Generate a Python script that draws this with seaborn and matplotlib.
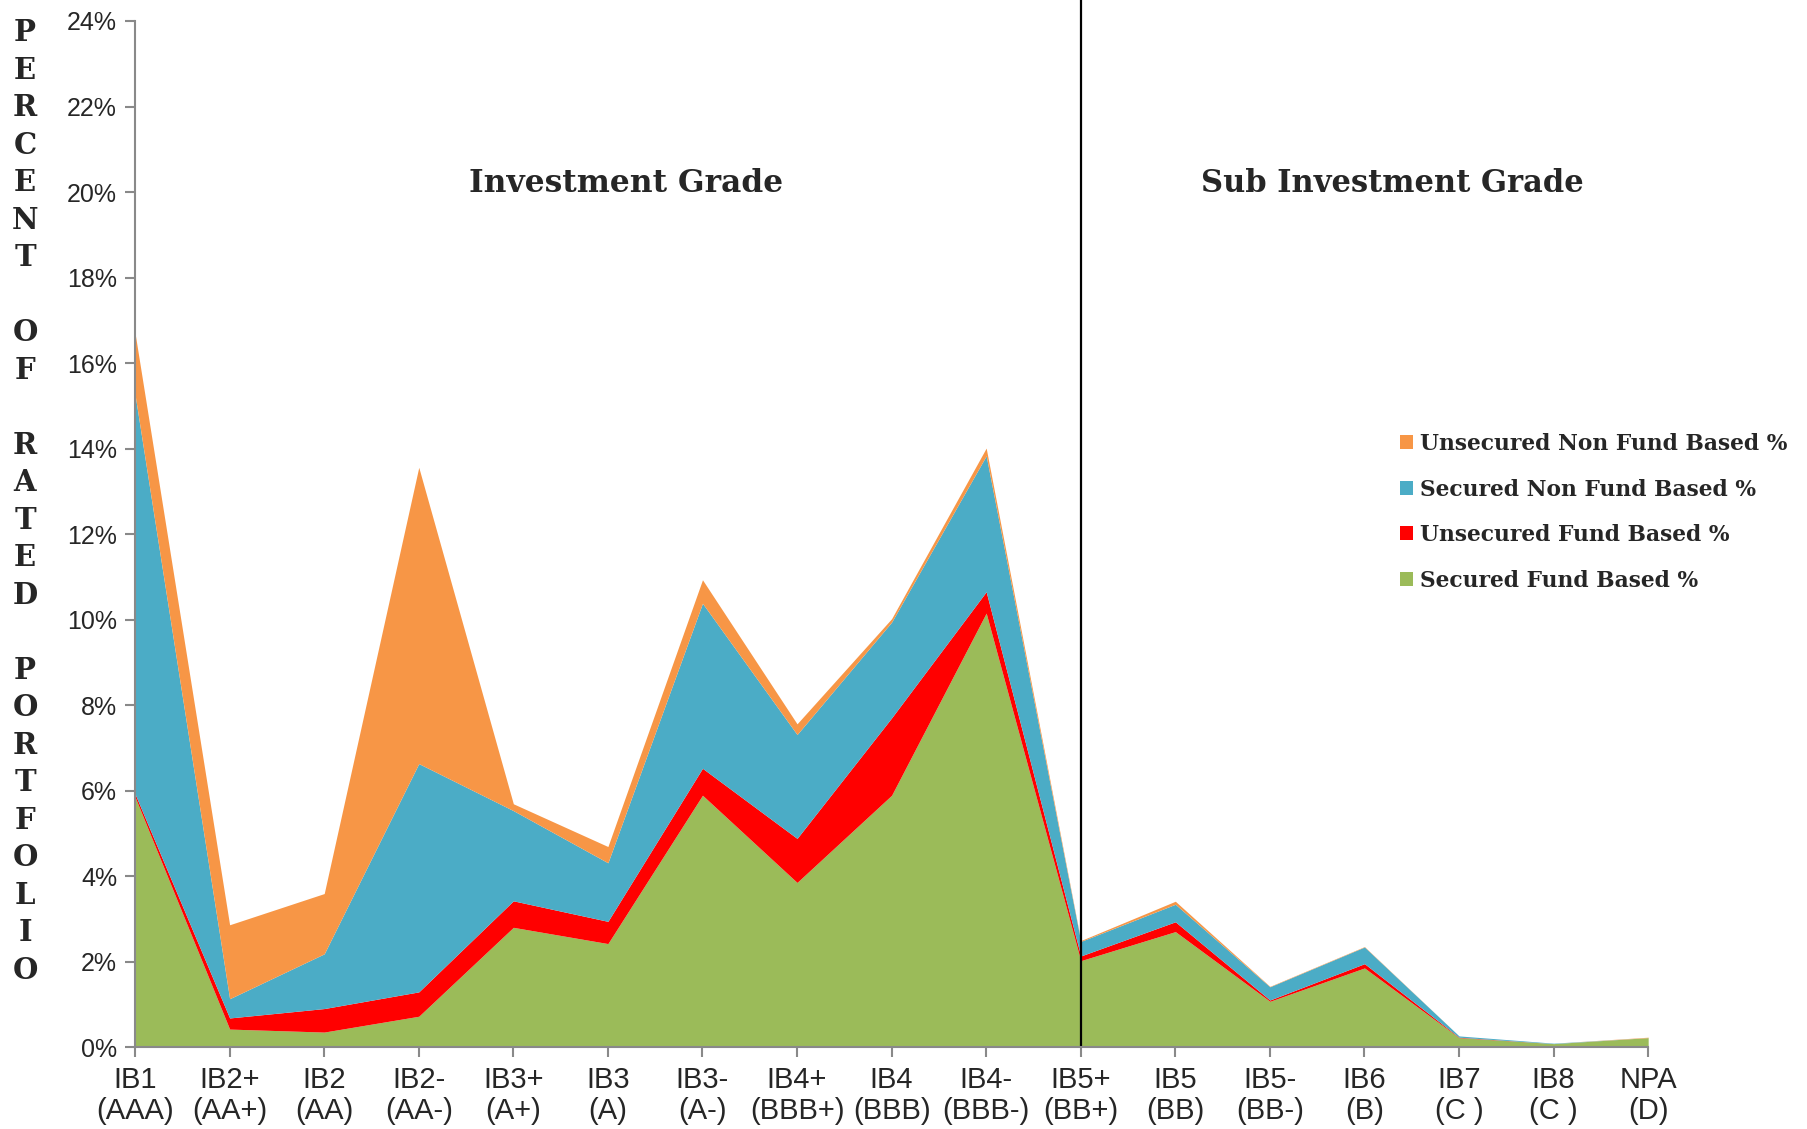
import seaborn as sns
import matplotlib.pyplot as plt
import matplotlib.ticker as mtick

# Rating buckets (x axis)
grades = ["IB1\n(AAA)", "IB2+\n(AA+)", "IB2\n(AA)", "IB2-\n(AA-)", "IB3+\n(A+)", "IB3\n(A)",
          "IB3-\n(A-)", "IB4+\n(BBB+)", "IB4\n(BBB)", "IB4-\n(BBB-)", "IB5+\n(BB+)", "IB5\n(BB)",
          "IB5-\n(BB-)", "IB6\n(B)", "IB7\n(C )", "IB8\n(C )", "NPA\n(D)"]

# Share of rated portfolio, %
secured_fb = [5.85, 0.42, 0.35, 0.72, 2.80, 2.42, 5.89, 3.85, 5.89, 10.15, 2.02, 2.70, 1.07, 1.85, 0.22, 0.08, 0.22]
unsecured_fb = [0.07, 0.26, 0.55, 0.57, 0.62, 0.52, 0.63, 1.03, 1.81, 0.50, 0.11, 0.23, 0.03, 0.10, 0.01, 0.00, 0.00]
secured_nfb = [9.34, 0.45, 1.28, 5.34, 2.11, 1.37, 3.86, 2.43, 2.24, 3.18, 0.34, 0.41, 0.31, 0.39, 0.03, 0.01, 0.00]
unsecured_nfb = [1.44, 1.73, 1.41, 6.93, 0.16, 0.38, 0.55, 0.25, 0.08, 0.18, 0.02, 0.07, 0.01, 0.01, 0.00, 0.00, 0.01]

series_names = ["Secured Fund Based %", "Unsecured Fund Based %",
                "Secured Non Fund Based %", "Unsecured Non Fund Based %"]
series_colors = ["#9BBB59", "#FF0000", "#4BACC6", "#F79646"]

sns.set_theme(style="white")
plt.rcParams['font.family'] = ['Liberation Sans', 'DejaVu Sans']

fig = plt.figure(figsize=(18.08, 11.29), dpi=100)
ax = fig.add_axes([0.0747, 0.0726, 0.8369, 0.9088])

x = list(range(len(grades)))
ax.stackplot(x, secured_fb, unsecured_fb, secured_nfb, unsecured_nfb,
             labels=series_names, colors=series_colors, linewidth=0)

ax.set_xlim(0, len(grades) - 1)
ax.set_ylim(0, 24)
ax.set_yticks(range(0, 25, 2))
ax.yaxis.set_major_formatter(mtick.FuncFormatter(lambda v, _: f"{int(v)}%"))
ax.set_xticks(x)
ax.set_xticklabels(grades, fontsize=21, linespacing=1.12)
ax.tick_params(axis="y", labelsize=18, length=7, width=1.5, color="#898989",
               direction="out", left=True, pad=6)
ax.tick_params(axis="x", length=7, width=1.5, color="#898989", direction="out",
               bottom=True, pad=7)

sns.despine(ax=ax)
for side in ["left", "bottom"]:
    ax.spines[side].set_color("#898989")
    ax.spines[side].set_linewidth(1.5)

# divider between investment / sub-investment grade
ax.axvline(10, ymin=0, ymax=1.0205, color="black", linewidth=1.6, clip_on=False)

serif = ['DejaVu Serif']
ax.text(5.19, 20.2, "Investment Grade", ha="center", va="center",
        fontsize=22.5, fontweight="bold", family=serif)
ax.text(13.3, 20.2, "Sub Investment Grade", ha="center", va="center",
        fontsize=22, fontweight="bold", family=serif)

# legend, reversed to match stacking (top series first)
handles, labels = ax.get_legend_handles_labels()
leg = ax.legend(handles[::-1], labels[::-1], loc="upper left",
                bbox_to_anchor=(0.83, 0.607), frameon=False,
                prop={"family": serif, "weight": "bold", "size": 15.7},
                handlelength=0.6, handleheight=0.6, handletextpad=0.35,
                labelspacing=1.08, borderaxespad=0)

# stacked vertical y label
ylabel = "\n".join(list("PERCENT") + [" "] + list("OF") + [" "] + list("RATED")
                   + [" "] + list("PORTFOLIO"))
fig.text(0.0138, 0.984, ylabel, ha="center", va="top", fontsize=21,
         fontweight="bold", family=serif, linespacing=1.37)

fig.savefig("out.png", dpi=100)
